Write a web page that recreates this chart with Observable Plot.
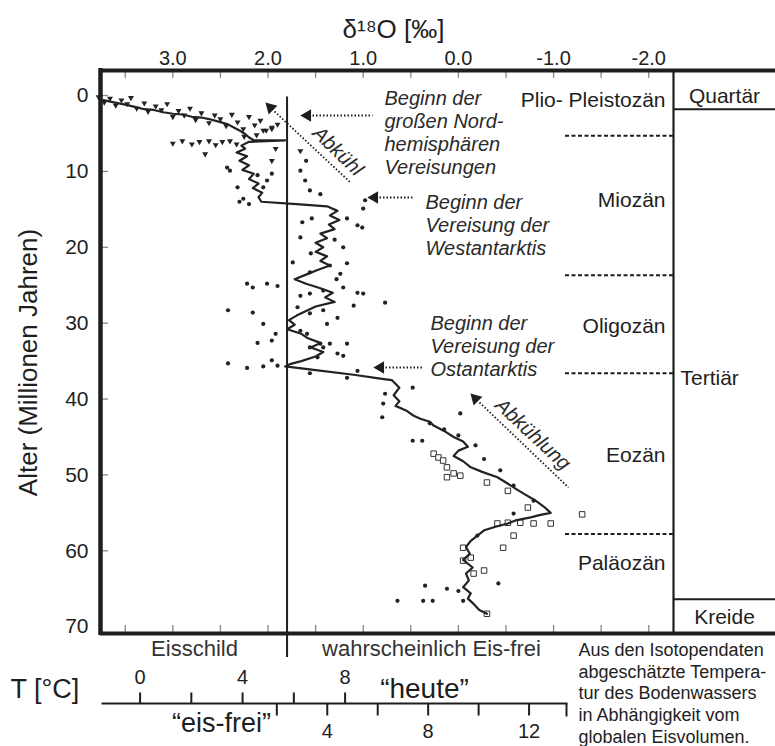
<!DOCTYPE html>
<html><head><meta charset="utf-8">
<script src="https://cdn.jsdelivr.net/npm/d3@7"></script>
<script src="https://cdn.jsdelivr.net/npm/@observablehq/plot@0.6"></script>
<style>
html,body{margin:0;padding:0;background:#fff;}
#chart{width:775px;height:746px;overflow:hidden;}
</style></head><body><div id="chart"></div>
<script>
// ---------- data ----------
const curveD18O = [3.73,3.62,3.5,3.4,3.3,3.2,3.1,3.0,2.9,2.8,2.7,2.62,2.5,2.42,2.36,2.3,2.25,2.19,2.15,1.82,2.2,2.28,2.24,2.33,2.22,2.3,2.2,2.27,2.15,2.2,2.1,2.16,2.06,2.1,2.07,1.7,1.38,1.27,1.35,1.25,1.36,1.3,1.45,1.38,1.5,1.42,1.5,1.38,1.45,1.35,1.48,1.6,1.72,1.6,1.45,1.32,1.4,1.3,1.5,1.6,1.7,1.78,1.72,1.8,1.65,1.58,1.45,1.55,1.42,1.5,1.65,1.77,1.82,1.5,1.1,0.82,0.7,0.62,0.68,0.62,0.66,0.55,0.47,0.4,0.3,0.26,0.15,0.05,-0.05,-0.1,0.0,0.05,-0.05,-0.13,-0.25,-0.41,-0.5,-0.6,-0.69,-0.8,-0.9,-0.97,-0.85,-0.76,-0.6,-0.52,-0.4,-0.27,-0.2,-0.13,-0.08,-0.12,-0.05,-0.15,-0.08,-0.11,-0.05,-0.13,-0.1,-0.16,-0.22,-0.3];
const curveAge  = [0.6,0.9,1.2,1.5,1.8,1.9,2.2,2.4,2.5,2.8,2.9,3.1,3.5,3.8,4.2,4.6,5.0,5.6,5.9,5.9,6.1,6.6,7.0,7.5,8.0,8.6,9.2,9.8,10.3,11.0,11.6,12.2,12.8,13.4,14.0,14.3,14.6,15.2,15.8,16.4,17.0,17.6,18.2,18.8,19.4,20.0,20.6,21.2,21.8,22.4,23.0,23.6,24.2,24.8,25.4,26.0,26.6,27.2,27.8,28.4,29.0,29.6,30.2,30.8,31.4,32.0,32.6,33.2,33.8,34.4,35.0,35.4,35.7,36.2,36.8,37.3,37.5,38.5,39.5,40.3,40.9,41.5,42.2,42.6,43.0,43.5,44.2,45.0,45.6,46.3,46.8,47.5,48.2,49.0,49.6,50.3,51.0,51.8,52.5,53.3,54.2,55.0,55.3,55.6,56.0,56.4,56.8,57.3,58.0,58.7,59.5,60.4,61.2,62.2,63.0,63.9,64.8,65.6,66.3,67.0,67.8,68.3];

const triangleD18O = [3.78,3.72,3.66,3.6,3.54,3.48,3.44,3.38,3.3,3.26,3.18,3.12,3.06,3.0,2.94,2.88,2.82,2.76,2.7,2.62,2.56,2.5,2.44,2.38,2.32,2.26,2.2,2.14,2.08,2.02,1.96,1.9,3.0,2.9,2.8,2.72,2.62,2.55,2.48,2.4,2.33,2.66,2.05,1.96,1.92,1.96,1.66,2.25,2.12];
const triangleAge  = [0.2,0.9,0.4,1.3,0.6,1.1,0.3,1.7,1.0,2.1,1.4,1.9,1.1,2.8,2.0,2.6,1.7,3.2,2.3,3.6,2.6,3.1,4.0,2.5,3.5,4.4,2.8,3.9,3.3,4.6,4.2,3.8,6.3,6.0,6.4,6.1,6.0,6.5,6.1,6.0,6.4,7.7,4.6,4.4,7.0,8.6,7.3,5.4,5.2];

const dotD18O = [1.66,1.61,1.56,1.0,1.64,1.54,1.17,1.06,1.01,1.66,1.21,1.74,1.56,1.35,1.17,1.24,1.6,1.45,0.98,1.3,1.55,1.28,
  2.32,2.26,2.05,2.01,1.96,2.11,2.43,2.40,2.3,2.2,
  2.42,2.16,2.11,1.96,2.05,1.92,2.42,2.22,2.05,1.96,1.90,2.22,2.16,2.01,1.90,1.66,1.56,1.42,1.21,1.06,1.0,1.10,0.77,1.69,1.56,1.42,1.38,1.27,1.66,1.59,1.56,1.45,1.42,1.35,1.48,1.27,1.17,1.21,1.56,1.17,1.06,
  0.77,0.79,0.80,0.48,-0.02,0.48,0.38,-0.18,0.0,-0.27,-0.44,-0.58,-0.79,-0.58,-0.2,0.35,0.12,0.0,-0.42,0.64,0.37,0.27,-0.05,0.15,0.3];
const dotAge  = [9.9,11.2,12.5,14.9,16.7,16.2,16.2,17.1,17.4,18.7,20.0,22.0,23.3,22.4,22.1,23.5,8.6,13.0,13.8,19.0,20.8,24.2,
  12.1,13.6,12.1,11.2,10.3,10.5,9.5,9.9,14.0,14.3,
  28.3,28.6,32.6,32.3,30.1,31.4,35.3,35.9,35.7,34.9,35.6,24.8,25.3,24.8,25.1,26.4,26.1,25.7,25.3,26.0,26.1,27.7,27.3,27.9,28.7,28.3,30.1,29.3,31.0,31.4,33.2,32.7,33.2,32.7,34.5,34.0,32.7,34.3,36.6,37.2,36.3,
  39.3,40.6,42.4,38.5,41.9,45.5,45.5,46.1,44.8,47.9,49.4,51.4,53.4,55.1,58.0,64.6,65.0,65.3,64.3,66.6,66.6,66.6,66.6,44.0,43.2];

const squareD18O = [0.26,0.21,0.16,0.12,0.05,0.12,-0.02,-0.3,-0.52,-0.73,-1.3,-0.41,-0.52,-0.65,-0.79,-0.97,-0.58,-0.47,-0.05,-0.27,-0.16,-0.13,-0.3,-0.05];
const squareAge  = [47.2,47.7,48.1,49.0,49.8,50.3,50.1,51.0,52.1,54.3,55.2,56.4,56.3,56.3,56.4,56.4,58.0,59.6,61.3,62.6,63.0,60.9,68.3,59.6];

const xTickLabels = [3, 2, 1, 0, -1, -2];
const xMinorTicks = [3.5, 3, 2.5, 2, 1.5, 1, 0.5, 0, -0.5, -1, -1.5, -2];
const yTickLabels = [0, 10, 20, 30, 40, 50, 60, 70];

const epochNames = ["Plio- Pleistozän", "Miozän", "Oligozän", "Eozän", "Paläozän"];
const epochLabelAge = [0.65, 13.8, 30.4, 47.4, 61.7];
const epochBoundaries = [5.3, 23.7, 36.6, 57.8];
const periodNames = ["Quartär", "Tertiär", "Kreide"];
const periodLabelAge = [0.15, 37.3, 68.7];
const periodBoundaries = [1.8, 66.4];

const iceFreeThreshold = 1.8;   // δ18O (‰)
const tempUpperTicks = [0, 2, 4, 6, 8];
const tempUpperLabels = [0, 4, 8];
const tempLowerTicks = [2, 4, 6, 8, 10, 12];
const tempLowerLabels = [4, 8, 12];

// ---------- layout helpers ----------
const xDomain = [3.76, -2.26], yDomain = [-3.3, 70.9];
const W = 775, H = 746, mL = 100, mR = 102, mT = 70, mB = 113;
const X = d3.scaleLinear().domain(xDomain).range([mL, W - mR]);
const Y = d3.scaleLinear().domain(yDomain).range([mT, H - mB]);
const px = v => X.invert(v), py = v => Y.invert(v);
// temperature scales expressed in δ18O units
const tUpper = t => 3.344 - 0.2692 * t;
const tLower = t => 2.4375 - 0.265 * t;

const zip = (a, b) => a.map((v, i) => ({d: v, age: b[i]}));
const curve = zip(curveD18O, curveAge);
const tris = zip(triangleD18O, triangleAge);
const dots = zip(dotD18O, dotAge);
const squares = zip(squareD18O, squareAge);
const periods = periodNames.map((n, i) => ({n, age: periodLabelAge[i]}));

const ink = "#1e1e1e";
const ital = {fontStyle: "italic", fontSize: 20, fill: "#2a2a2a", lineHeight: 1.15};

const chart = Plot.plot({
  width: W, height: H,
  marginLeft: mL, marginRight: mR, marginTop: mT, marginBottom: mB,
  x: {domain: xDomain},
  y: {domain: yDomain, reverse: true},
  style: {fontFamily: "'Liberation Sans', Arial, sans-serif", background: "white", color: ink, overflow: "hidden"},
  marks: [
    // scatter
    Plot.dot(squares, {x: "d", y: "age", symbol: "square", r: 3.1, stroke: "#333", fill: "white", strokeWidth: 1}),
    Plot.dot(dots, {x: "d", y: "age", r: 2.1, fill: "#222", stroke: "none"}),
    Plot.dot(tris, {x: "d", y: "age", symbol: "triangle", rotate: 180, r: 2.2, fill: "#222", stroke: "none"}),
    // curve
    Plot.line(curve, {x: "d", y: "age", stroke: "#222", strokeWidth: 2.2, strokeLinejoin: "round"}),
    // ice-free threshold line
    Plot.ruleX([iceFreeThreshold], {y1: 0.2, y2: py(657), stroke: ink, strokeWidth: 2}),
    // inner ticks
    Plot.ruleX(xMinorTicks, {x: d => d, y1: yDomain[0], y2: py(mT + 8), stroke: "#888", strokeWidth: 1.3}),
    Plot.ruleX(xMinorTicks, {x: d => d, y1: yDomain[1], y2: py(H - mB - 8), stroke: "#888", strokeWidth: 1.3}),
    Plot.ruleY(yTickLabels.slice(0, -1), {y: d => d, x1: xDomain[0], x2: px(mL + 8), stroke: "#888", strokeWidth: 1.3}),
    // epoch boundaries (dashed)
    Plot.ruleY(epochBoundaries, {y: d => d, x1: px(565), x2: xDomain[1], stroke: ink, strokeWidth: 2, strokeDasharray: "4,2.5"}),
    // period boundaries
    Plot.ruleY(periodBoundaries, {y: d => d, x1: xDomain[1], x2: px(W + 10), stroke: ink, strokeWidth: 2}),
    // frame
    Plot.ruleX([xDomain[1]], {y1: yDomain[0], y2: yDomain[1], stroke: ink, strokeWidth: 2.2}),
    Plot.ruleY([yDomain[0], yDomain[1]], {x1: xDomain[0], x2: px(W + 10), stroke: ink, strokeWidth: 4}),
    Plot.ruleX([xDomain[0]], {y1: py(mT - 2), y2: py(H - mB + 2), stroke: ink, strokeWidth: 4.5}),
    // axes
    Plot.axisX(xTickLabels, {anchor: "top", tickSize: 0, tickPadding: 6, tickFormat: d => d.toFixed(1), fontSize: 20, label: null}),
    Plot.axisY(yTickLabels, {anchor: "left", tickSize: 0, tickPadding: 12, fontSize: 21, label: null}),
    Plot.text(["δ¹⁸O [‰]"], {x: px(393), y: py(29), text: d => d, fontSize: 26}),
    Plot.text(["Alter (Millionen Jahren)"], {x: px(28), y: py(362), text: d => d, fontSize: 26, rotate: -90}),
    // epochs / periods
    Plot.text(epochNames, {x: px(665), y: (d, i) => epochLabelAge[i], text: d => d, textAnchor: "end", fontSize: 21}),
    Plot.text(periods.filter((d, i) => i !== 1), {x: px(724), y: "age", text: "n", textAnchor: "middle", fontSize: 21}),
    Plot.text(periods.filter((d, i) => i === 1), {x: px(680), y: "age", text: "n", textAnchor: "start", fontSize: 21}),
    // annotations
    Plot.text(["Beginn der\ngroßen Nord-\nhemisphären\nVereisungen"], {x: px(384), y: py(132), text: d => d, textAnchor: "start", ...ital}),
    Plot.text(["Beginn der\nVereisung der\nWestantarktis"], {x: px(425), y: py(223.7), text: d => d, textAnchor: "start", ...ital}),
    Plot.text(["Beginn der\nVereisung der\nOstantarktis"], {x: px(430), y: py(345), text: d => d, textAnchor: "start", ...ital}),
    Plot.link([0], {x1: px(312), x2: px(372), y1: py(115), y2: py(115), stroke: ink, strokeWidth: 2, strokeDasharray: "1.5,2"}),
    Plot.link([0], {x1: px(379), x2: px(412), y1: py(197), y2: py(197), stroke: ink, strokeWidth: 2, strokeDasharray: "1.5,2"}),
    Plot.link([0], {x1: px(385), x2: px(422), y1: py(367), y2: py(367), stroke: ink, strokeWidth: 2, strokeDasharray: "1.5,2"}),
    Plot.link([0], {x1: px(274), x2: px(350), y1: py(111), y2: py(182), stroke: ink, strokeWidth: 1.8, strokeDasharray: "1.5,2"}),
    Plot.link([0], {x1: px(479), x2: px(568), y1: py(402), y2: py(487), stroke: ink, strokeWidth: 1.8, strokeDasharray: "1.5,2"}),
    Plot.dot([[307,115],[374,197],[380,367]], {x: d => px(d[0]), y: d => py(d[1]), symbol: "triangle", rotate: -90, r: 4.6, fill: ink, stroke: "none"}),
    Plot.dot([[270,107],[475,398]], {x: d => px(d[0]), y: d => py(d[1]), symbol: "triangle", rotate: -45, r: 4.6, fill: ink, stroke: "none"}),
    Plot.text(["Abkühl"], {x: px(338), y: py(150), text: d => d, rotate: 44, ...ital}),
    Plot.text(["Abkühlung"], {x: px(533), y: py(433), text: d => d, rotate: 43, ...ital}),
    // below frame
    Plot.text(["Eisschild"], {x: px(194), y: py(648), text: d => d, fontSize: 22, fill: "#333"}),
    Plot.text(["wahrscheinlich Eis-frei"], {x: px(431), y: py(648), text: d => d, fontSize: 22, fill: "#333"}),
    Plot.text(["T [°C]"], {x: px(10), y: py(689), text: d => d, textAnchor: "start", fontSize: 27}),
    Plot.link([0], {x1: px(101), x2: px(567), y1: py(703), y2: py(703), stroke: ink, strokeWidth: 2}),
    Plot.link(tempUpperTicks, {x1: tUpper, x2: tUpper, y1: py(703), y2: py(692), stroke: ink, strokeWidth: 2}),
    Plot.text(tempUpperLabels, {x: tUpper, y: py(677), text: d => String(d), fontSize: 20}),
    Plot.link(tempLowerTicks, {x1: tLower, x2: tLower, y1: py(703), y2: py(715), stroke: ink, strokeWidth: 2}),
    Plot.link([0], {x1: px(566), x2: px(566), y1: py(703), y2: py(716), stroke: ink, strokeWidth: 2}),
    Plot.text(tempLowerLabels, {x: tLower, y: py(731), text: d => String(d), fontSize: 20}),
    Plot.text(["“eis-frei”"], {x: px(221), y: py(723), text: d => d, fontSize: 27}),
    Plot.text(["“heute”"], {x: px(424), y: py(689), text: d => d, fontSize: 28}),
    Plot.text(["Aus den Isotopendaten\nabgeschätzte Tempera-\ntur des Bodenwassers\nin Abhängigkeit vom\nglobalen Eisvolumen."], {x: px(578), y: py(692), text: d => d, textAnchor: "start", fontSize: 18, lineHeight: 1.2, fill: "#222"})
  ]
});
document.getElementById("chart").appendChild(chart);
</script>
</body></html>
